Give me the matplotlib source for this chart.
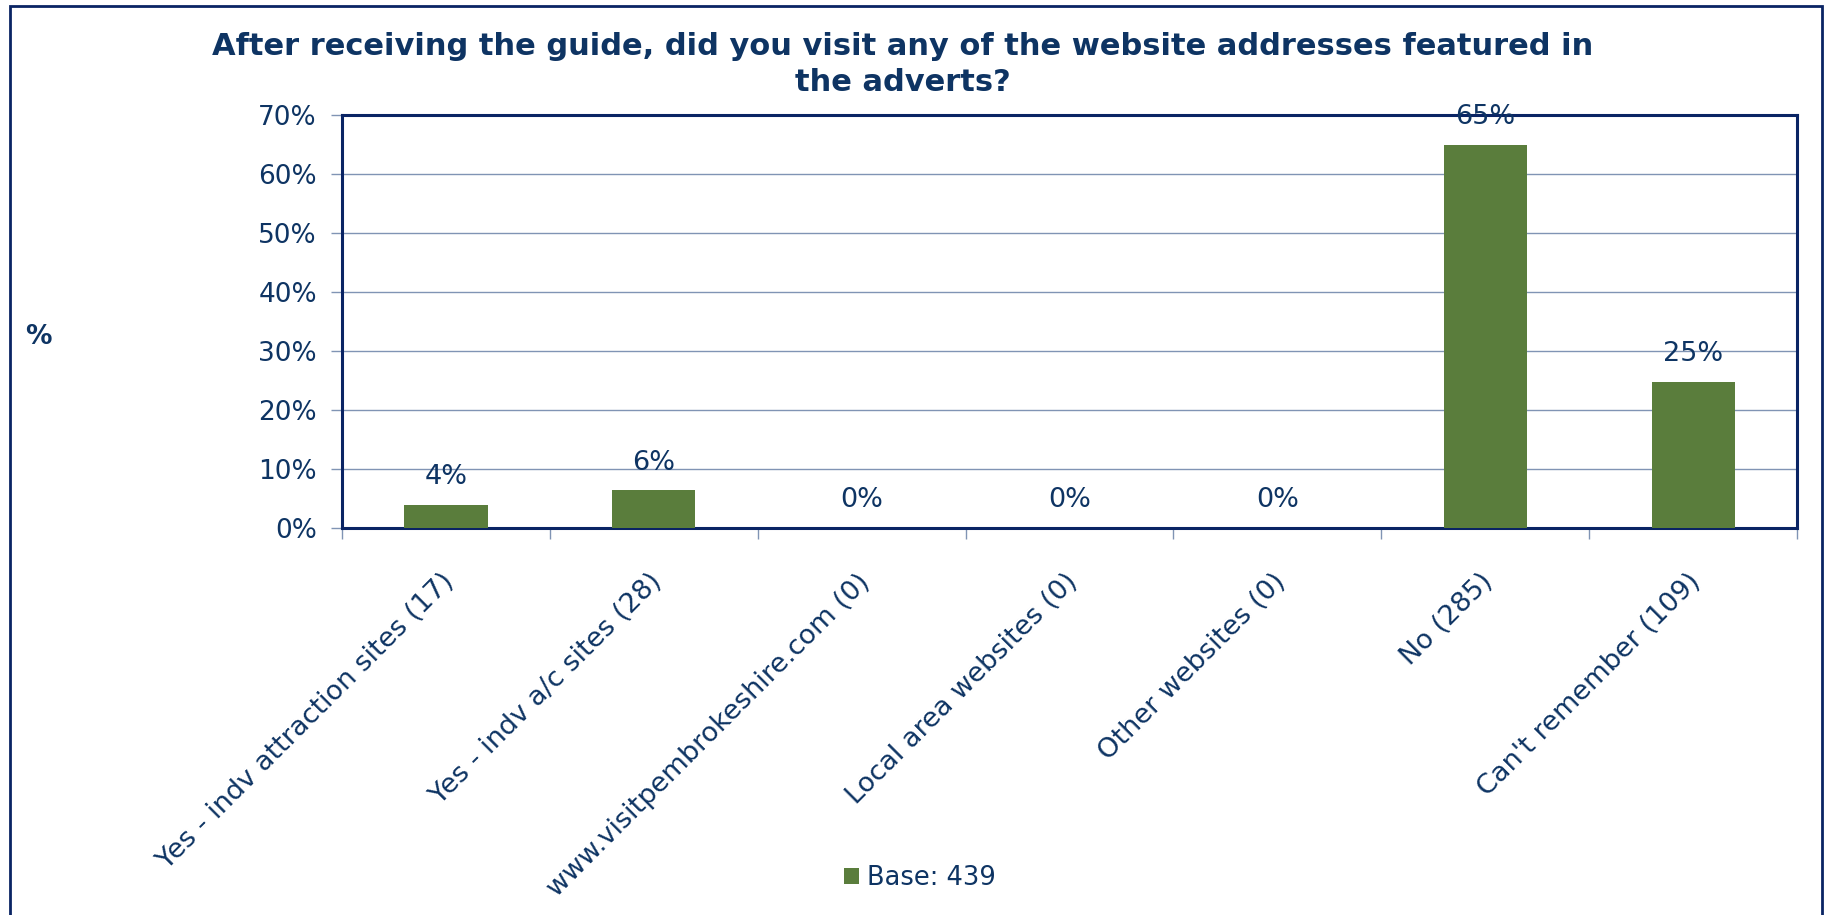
import matplotlib.pyplot as plt
from matplotlib.patches import Rectangle
from matplotlib.ticker import PercentFormatter, FixedLocator, NullFormatter
from matplotlib.transforms import ScaledTranslation
import numpy as np

categories = [
    "Yes - indv attraction sites (17)",
    "Yes - indv a/c sites (28)",
    "www.visitpembrokeshire.com (0)",
    "Local area websites (0)",
    "Other websites (0)",
    "No (285)",
    "Can't remember (109)",
]
counts = [17, 28, 0, 0, 0, 285, 109]
base = 439
pct = [100.0 * c / base for c in counts]

navy = '#0E3463'
spine = '#0A2464'
grid = '#8094B4'
green = '#5A7D3C'

plt.rcParams['font.family'] = 'DejaVu Sans'

W, H = 1827, 915
fig = plt.figure(figsize=(W / 100, H / 100), dpi=100)
ax = fig.add_axes([342 / W, 1 - 528 / H, 1455 / W, 413 / H])

x = np.arange(len(categories))
bars = ax.bar(x, pct, width=0.4, color=green, zorder=3)

ax.set_xlim(-0.5, len(categories) - 0.5)
ax.set_ylim(0, 70)
ax.yaxis.set_major_locator(FixedLocator(np.arange(0, 71, 10)))
ax.yaxis.set_major_formatter(PercentFormatter(decimals=0))
ax.grid(axis='y', color=grid, linewidth=1.0, zorder=0)
ax.set_axisbelow(True)

# category labels centred on bars, ticks sit between them
ax.set_xticks(x)
ax.set_xticklabels(categories, rotation=45, ha='right', va='center',
                   rotation_mode='anchor', fontsize=19.5, color=navy)
ax.tick_params(axis='x', which='major', length=0, pad=0)
shift = ScaledTranslation(0.04, -0.50, fig.dpi_scale_trans)
for lab in ax.get_xticklabels():
    lab.set_transform(lab.get_transform() + shift)
ax.set_xticks(np.arange(-0.5, len(categories)), minor=True)
ax.xaxis.set_minor_formatter(NullFormatter())
ax.tick_params(axis='x', which='minor', length=8, color=grid, width=1)
ax.tick_params(axis='y', length=8, color=grid, width=1, labelsize=19,
               labelcolor=navy, pad=10)

for s in ax.spines.values():
    s.set_color(spine)
    s.set_linewidth(2.2)

for b, v in zip(bars, pct):
    ax.annotate(f"{v:.0f}%", (b.get_x() + b.get_width() / 2, v),
                xytext=(0, 20), textcoords='offset points',
                ha='center', va='center', fontsize=19.5, color=navy)

fig.suptitle("After receiving the guide, did you visit any of the website addresses featured in\nthe adverts?",
             x=0.494, y=1 - 32 / H, fontsize=22, fontweight='bold', color=navy,
             linespacing=1.32)
fig.text(38 / W, 1 - 337 / H, '%', fontsize=19, fontweight='bold',
         color=navy, ha='center', va='center')

fig.legend(handles=[bars], labels=['Base: 439'], loc='center',
           bbox_to_anchor=(920 / W, 1 - 878 / H), frameon=False,
           fontsize=18.5, labelcolor=navy, handlelength=0.58,
           handleheight=0.58, handletextpad=0.3)

fig.patches.append(Rectangle((10 / W, -0.1), 1812 / W, 1.1 - 6 / H,
                             transform=fig.transFigure, fill=False,
                             edgecolor=spine, linewidth=2, zorder=10))

fig.savefig('out.png', dpi=100)
